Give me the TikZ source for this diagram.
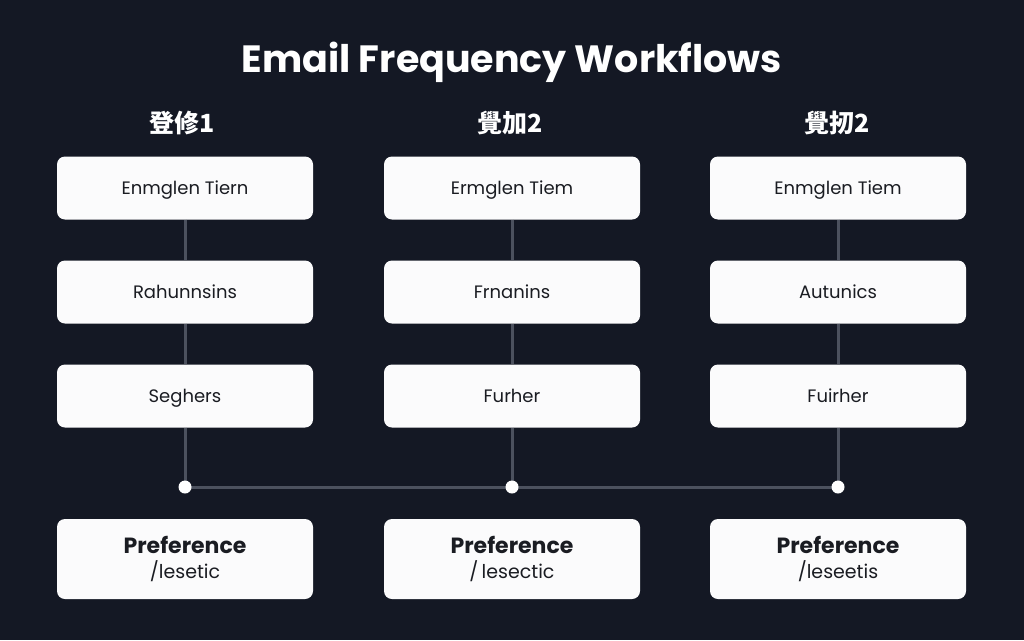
\documentclass[tikz,border=0pt]{standalone}
\usepackage{fontspec}
\setmainfont{Poppins}
\newfontfamily\cjk{Noto Sans CJK SC}
\definecolor{bg}{HTML}{141824}
\definecolor{boxfill}{HTML}{FBFBFC}
\definecolor{txt}{HTML}{1A1C22}
\definecolor{wire}{HTML}{4C515E}
\begin{document}
\begin{tikzpicture}[x=1pt,y=-1pt,
  stepbox/.style={draw=none,fill=boxfill,rounded corners=8pt,minimum width=256pt,minimum height=63pt,inner sep=0pt,text=txt,text height=12.6pt,text depth=0pt,font=\fontsize{18}{20}\selectfont},
  prefbox/.style={draw=none,fill=boxfill,rounded corners=8pt,minimum width=256pt,minimum height=80pt,inner sep=0pt,text=txt,align=center},
  hdr/.style={text=white,font=\cjk\bfseries\fontsize{25}{27}\selectfont},
  wireline/.style={draw=wire,line width=3pt},
  dot/.style={circle,fill=white,minimum size=13pt,inner sep=0pt}]
\fill[bg] (0,0) rectangle (1024,640);
\useasboundingbox (0,0) rectangle (1024,640);
\node[text=white,font=\bfseries\fontsize{38}{40}\selectfont,text height=27pt,text depth=0pt] (title) at (512,59) {Email Frequency Workflows};
\node[hdr] (h1) at (182,123) {登修1};
\node[hdr] (h2) at (510,123) {覺加2};
\node[hdr] (h3) at (837,123) {覺扨2};
\node[stepbox] (a1) at (185,188) {Enmglen Tiern};
\node[stepbox] (b1) at (185,292) {Rahunnsins};
\node[stepbox] (c1) at (185,396) {Seghers};
\node[stepbox] (a2) at (512,188) {Ermglen Tiem};
\node[stepbox] (b2) at (512,292) {Frnanins};
\node[stepbox] (c2) at (512,396) {Furher};
\node[stepbox] (a3) at (838,188) {Enmglen Tiem};
\node[stepbox] (b3) at (838,292) {Autunics};
\node[stepbox] (c3) at (838,396) {Fuirher};
\coordinate (d1) at (185,487);
\coordinate (d2) at (512,487);
\coordinate (d3) at (838,487);
\foreach \i in {1,2,3}{
  \draw[wireline] (a\i) -- (b\i);
  \draw[wireline] (b\i) -- (c\i);
  \draw[wireline] (c\i) -- (d\i);
}
\draw[wireline] (d1) -- (d2) -- (d3);
\foreach \i in {1,2,3}{ \node[dot] (p\i) at (d\i) {}; }
\node[prefbox] (e1) at (185,559) {{\bfseries\fontsize{22}{24}\selectfont Preference}\\[5pt]{\fontsize{19}{22}\selectfont /lesetic}};
\node[prefbox] (e2) at (512,559) {{\bfseries\fontsize{22}{24}\selectfont Preference}\\[5pt]{\fontsize{19}{22}\selectfont /\,lesectic}};
\node[prefbox] (e3) at (838,559) {{\bfseries\fontsize{22}{24}\selectfont Preference}\\[5pt]{\fontsize{19}{22}\selectfont /leseetis}};
\end{tikzpicture}
\end{document}
